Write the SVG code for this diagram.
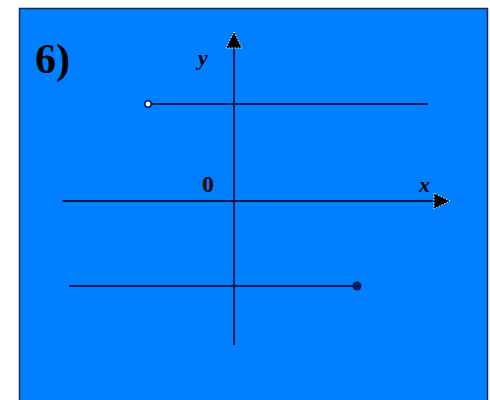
<svg xmlns="http://www.w3.org/2000/svg" width="490" height="400" viewBox="0 0 490 400">
<style>
.ln{stroke:#0a1a55;stroke-width:2;fill:none}
.lbl{font-family:"Liberation Serif",serif;fill:#000}
.head{fill:#000;stroke:#fff;stroke-width:1;stroke-dasharray:1.5,1.5}
</style>
<rect width="490" height="400" fill="#fff"/>
<rect x="19.5" y="8.5" width="468" height="395" fill="#0080ff" stroke="#1a2a55" stroke-width="1.5"/>
<text class="lbl" x="35" y="73" font-size="42" font-weight="bold">6)</text>
<g id="connectors">
<line id="y-axis" class="ln" x1="234" y1="345" x2="234" y2="46"/>
<polygon class="head" points="234,32 242,48 226,48"/>
<line id="x-axis" class="ln" x1="62" y1="201" x2="436" y2="201"/>
<polygon class="head" points="450,201 434,193 434,209"/>
<line id="upper" class="ln" x1="148" y1="104" x2="428" y2="104"/>
<line id="lower" class="ln" x1="69" y1="286" x2="357" y2="286"/>
</g>
<g id="open-point"><circle cx="148" cy="104" r="3.2" fill="#fff" stroke="#0a1a55" stroke-width="1.5"/></g>
<g id="closed-point"><circle cx="357" cy="286" r="4.5" fill="#0a1a55"/></g>
<g id="labels">
<text class="lbl" x="198" y="65" font-size="22" font-style="italic" font-weight="bold" fill="#0a1a55">y</text>
<text class="lbl" x="419" y="192" font-size="22" font-style="italic" font-weight="bold" fill="#0a1a55">x</text>
<text class="lbl" x="202" y="192" font-size="24" font-weight="bold">0</text>
</g>
</svg>
